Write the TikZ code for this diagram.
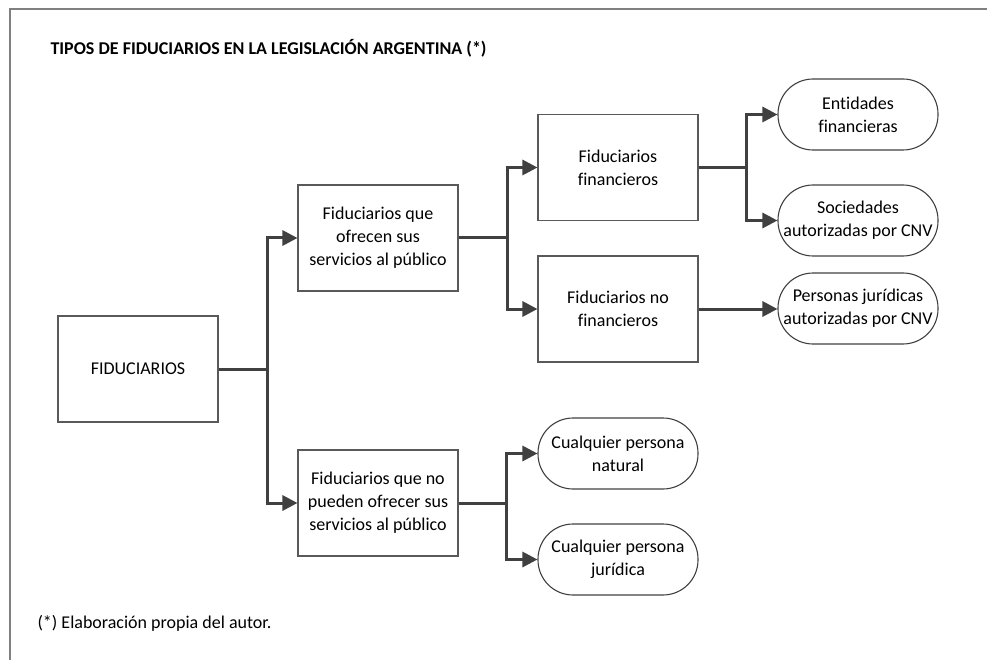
\documentclass[tikz,border=0pt]{standalone}
\usepackage{fontspec}
\setmainfont[Ligatures={NoCommon}]{Carlito}
\usetikzlibrary{arrows.meta}
\definecolor{conncol}{HTML}{404040}
\definecolor{boxcol}{HTML}{595959}
\definecolor{framecol}{HTML}{808080}
\tikzset{
  every node/.style={font=\fontsize{18}{23}\selectfont},
  sqbox/.style={draw=boxcol, line width=1.1pt, minimum width=160pt, minimum height=106pt, inner sep=0pt, align=center},
  rbox/.style={draw=conncol, line width=1.1pt, rounded corners=35pt, minimum width=160pt, minimum height=71pt, inner sep=0pt, align=center},
  conn/.style={draw=conncol, line width=3pt},
  arr/.style={conn, -{Triangle[length=15pt,width=15pt]}},
}
\begin{document}
\begin{tikzpicture}[x=1pt,y=-1pt]
\useasboundingbox (0,0) rectangle (987,660);
\draw[framecol, line width=1.5pt] (987,9) -- (10,9) -- (10,660);
\node[anchor=west, font=\fontsize{18}{22}\selectfont\bfseries] (title) at (47,48) {TIPOS DE FIDUCIARIOS EN LA LEGISLACIÓN ARGENTINA (*)};
\node[anchor=west] (foot) at (34,623) {(*) Elaboración propia del autor.};

\node[sqbox] (fid) at (138,369) {FIDUCIARIOS};
\node[sqbox] (pub) at (378,238) {Fiduciarios que\\ofrecen sus\\servicios al público};
\node[sqbox] (nopub) at (378,503) {Fiduciarios que no\\pueden ofrecer sus\\servicios al público};
\node[sqbox] (fin) at (618,167.5) {Fiduciarios\\financieros};
\node[sqbox] (nofin) at (618,309) {Fiduciarios no\\financieros};
\node[rbox] (ent) at (858,114.5) {Entidades\\financieras};
\node[rbox] (soc) at (858,220.5) {Sociedades\\autorizadas por CNV};
\node[rbox] (per) at (858,308.5) {Personas jurídicas\\autorizadas por CNV};
\node[rbox] (nat) at (618,453.5) {Cualquier persona\\natural};
\node[rbox] (jur) at (618,559.5) {Cualquier persona\\jurídica};

\coordinate (j1) at (267,369);
\coordinate (j2) at (507,238);
\coordinate (j3) at (746,167.5);
\coordinate (j4) at (506,503);

\draw[conn] (fid.east) -- (j1);
\draw[arr] (j1) |- (pub);
\draw[arr] (j1) |- (nopub);
\draw[conn] (pub.east) -- (j2);
\draw[arr] (j2) |- (fin);
\draw[arr] (j2) |- (nofin);
\draw[conn] (fin.east) -- (j3);
\draw[arr] (j3) |- (ent);
\draw[arr] (j3) |- (soc);
\draw[arr] (nofin.east) -- (per.west |- nofin.east);
\draw[conn] (nopub.east) -- (j4);
\draw[arr] (j4) |- (nat);
\draw[arr] (j4) |- (jur);
\end{tikzpicture}
\end{document}
